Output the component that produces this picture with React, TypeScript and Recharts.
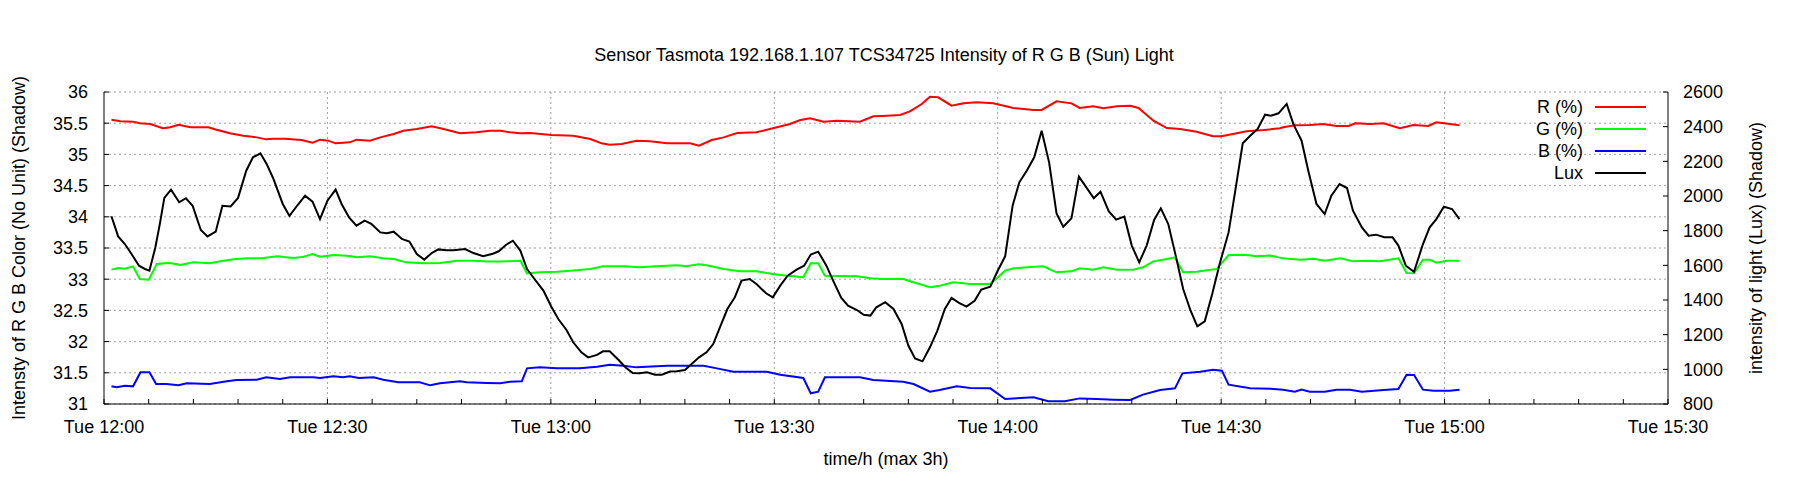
import { CartesianGrid, Legend, Line, LineChart, ReferenceLine, XAxis, YAxis } from "recharts"

const FONT = '"Liberation Sans", Arial, Helvetica, sans-serif'
const FS = 18

// time in minutes after Tue 12:00
const luxTime = [
  1.0, 1.9, 2.8, 3.7, 4.7, 5.5, 6.1, 6.9, 7.5, 8.1, 9.0, 10.1, 11.0, 11.9, 13.0, 13.9, 15.0, 15.9, 17.0, 18.0,
  19.1, 20.0, 21.0, 21.8, 22.7, 24.0, 24.9, 26.0, 27.0, 28.0, 29.0, 30.0, 31.1, 31.9, 32.9, 33.9, 35.0, 35.9,
  37.1, 38.0, 38.9, 40.0, 41.0, 42.0, 43.0, 44.0, 44.9, 46.0, 46.9, 48.5, 49.6, 50.9, 52.2, 53.0, 54.0, 54.9,
  55.9, 56.8, 57.8, 59.0, 60.1, 61.0, 62.1, 63.0, 64.1, 65.0, 66.2, 67.0, 67.9, 69.1, 70.0, 71.0, 71.9, 72.9,
  74.0, 74.9, 76.0, 76.9, 78.0, 78.9, 79.9, 80.9, 81.8, 82.7, 83.7, 84.7, 85.6, 86.7, 87.6, 88.9, 89.8, 90.8,
  91.8, 93.0, 94.0, 94.9, 95.9, 97.0, 97.9, 99.0, 99.9, 101.1, 102.0, 102.9, 103.7, 104.9, 106.0, 107.1, 108.0,
  108.9, 109.9, 110.9, 111.9, 112.9, 113.8, 114.8, 115.8, 116.9, 117.8, 119.0, 120.0, 121.0, 122.0, 122.9,
  123.9, 124.9, 125.9, 126.9, 127.9, 128.8, 129.9, 130.9, 131.9, 132.9, 133.8, 134.9, 135.9, 137.0, 138.0,
  139.0, 140.0, 141.0, 141.9, 142.9, 143.9, 144.9, 145.9, 146.8, 147.8, 148.8, 149.8, 151.0, 151.9, 152.9,
  153.9, 154.9, 155.9, 156.7, 157.7, 158.8, 159.7, 160.8, 161.7, 162.8, 163.9, 164.8, 165.9, 166.9, 167.7,
  168.9, 169.8, 170.8, 171.9, 173.0, 173.8, 174.8, 175.9, 177.1, 178.0, 178.9, 179.9, 181.0, 182.0,
]
const luxValue = [
  1883, 1767, 1723, 1665, 1598, 1579, 1569, 1704, 1839, 1989, 2037, 1964, 1987, 1944, 1804, 1767, 1794, 1944,
  1940, 1989, 2146, 2223, 2246, 2188, 2104, 1954, 1885, 1948, 2002, 1967, 1867, 1973, 2037, 1954, 1877, 1829,
  1858, 1839, 1790, 1785, 1794, 1752, 1737, 1665, 1633, 1671, 1692, 1687, 1687, 1694, 1671, 1652, 1667, 1681,
  1719, 1742, 1685, 1579, 1521, 1454, 1358, 1290, 1227, 1156, 1098, 1069, 1083, 1104, 1104, 1054, 1012, 979,
  977, 983, 969, 969, 987, 989, 996, 1031, 1069, 1098, 1146, 1242, 1348, 1415, 1512, 1521, 1492, 1439, 1415,
  1483, 1540, 1575, 1598, 1662, 1679, 1598, 1512, 1412, 1367, 1342, 1315, 1310, 1358, 1387, 1348, 1262, 1137,
  1063, 1046, 1127, 1223, 1348, 1412, 1383, 1362, 1396, 1460, 1477, 1569, 1652, 1944, 2079, 2146, 2223, 2377,
  2194, 1900, 1823, 1871, 2112, 2050, 1987, 2025, 1912, 1864, 1881, 1714, 1617, 1714, 1862, 1929, 1838, 1656,
  1463, 1338, 1248, 1277, 1435, 1608, 1790, 2031, 2304, 2348, 2387, 2469, 2463, 2477, 2531, 2415, 2319, 2146,
  1954, 1896, 2002, 2069, 2046, 1915, 1819, 1771, 1777, 1762, 1762, 1714, 1598, 1563, 1723, 1819, 1867, 1938,
  1925, 1867,
]

const rTime = [
  1.0, 2.2, 3.9, 4.8, 6.2, 7.9, 8.9, 10.0, 11.6, 14.0, 15.1, 16.9, 18.7, 20.5, 21.8, 22.7, 24.3, 26.5, 28.0,
  29.0, 30.1, 31.1, 33.0, 33.9, 35.7, 37.1, 38.9, 40.2, 42.0, 44.0, 45.6, 47.8, 50.0, 51.8, 53.2, 54.5, 55.9,
  57.2, 60.1, 63.0, 65.3, 66.8, 67.9, 69.5, 71.5, 73.3, 75.6, 78.7, 79.9, 81.6, 83.2, 85.0, 87.6, 89.8, 92.1,
  93.5, 94.8, 96.6, 98.4, 101.5, 103.3, 104.5, 106.9, 108.2, 109.8, 110.9, 112.0, 113.8, 115.4, 117.2, 119.4,
  122.1, 124.8, 125.9, 127.9, 129.9, 131.0, 132.8, 134.2, 136.0, 137.8, 138.9, 140.9, 142.7, 144.5, 146.7,
  148.9, 150.0, 151.6, 153.4, 155.7, 157.9, 158.3, 159.9, 161.9, 163.7, 165.5, 167.1, 168.0, 170.0, 171.8,
  172.9, 174.0, 175.8, 177.8, 178.9, 180.7, 182.0,
]
const rValue = [
  35.557, 35.53, 35.525, 35.498, 35.487, 35.418, 35.434, 35.476, 35.434, 35.434, 35.396, 35.338, 35.3, 35.273,
  35.241, 35.252, 35.252, 35.231, 35.188, 35.236, 35.22, 35.177, 35.193, 35.236, 35.22, 35.273, 35.327, 35.38,
  35.407, 35.45, 35.407, 35.338, 35.354, 35.38, 35.38, 35.354, 35.338, 35.343, 35.311, 35.3, 35.247, 35.177,
  35.156, 35.167, 35.22, 35.209, 35.177, 35.177, 35.14, 35.231, 35.273, 35.343, 35.354, 35.418, 35.487, 35.551,
  35.578, 35.525, 35.541, 35.525, 35.61, 35.615, 35.631, 35.69, 35.808, 35.925, 35.915, 35.781, 35.818,
  35.834, 35.818, 35.744, 35.712, 35.712, 35.85, 35.818, 35.744, 35.77, 35.738, 35.77, 35.781, 35.744, 35.54,
  35.423, 35.407, 35.364, 35.29, 35.29, 35.327, 35.37, 35.391, 35.418, 35.434, 35.466, 35.471, 35.487, 35.455,
  35.455, 35.498, 35.487, 35.498, 35.46, 35.418, 35.471, 35.455, 35.514, 35.487, 35.466,
]

const gTime = [
  1.0, 1.9, 2.8, 3.9, 4.8, 6.0, 7.1, 8.0, 9.1, 10.2, 12.0, 14.2, 15.6, 17.4, 19.2, 21.4, 23.2, 25.4, 26.8,
  28.0, 29.0, 30.8, 32.6, 33.9, 35.7, 37.5, 38.9, 40.6, 42.9, 45.1, 47.4, 49.6, 51.5, 53.2, 55.9, 56.8, 58.5,
  60.8, 62.6, 65.3, 67.0, 69.7, 71.9, 74.2, 76.9, 78.2, 79.8, 80.9, 83.2, 85.4, 87.6, 89.8, 91.7, 92.6, 93.9,
  94.9, 95.9, 96.8, 98.8, 101.1, 102.9, 104.5, 107.3, 108.7, 110.9, 112.2, 114.0, 116.3, 119.0, 121.0, 122.1,
  123.9, 126.1, 127.9, 129.9, 131.0, 132.8, 134.2, 136.0, 138.2, 139.5, 140.9, 142.7, 143.8, 144.9, 146.7,
  148.3, 149.4, 151.0, 153.0, 154.8, 156.6, 158.3, 160.6, 162.4, 163.9, 166.0, 167.7, 170.0, 171.3, 173.8,
  174.9, 175.9, 177.1, 178.0, 178.9, 180.3, 182.0,
]
const gValue = [
  33.153, 33.18, 33.169, 33.206, 33.003, 32.992, 33.244, 33.254, 33.254, 33.228, 33.27, 33.254, 33.286,
  33.318, 33.334, 33.34, 33.366, 33.34, 33.361, 33.404, 33.361, 33.388, 33.377, 33.35, 33.366, 33.334, 33.324,
  33.27, 33.254, 33.26, 33.297, 33.297, 33.283, 33.282, 33.297, 33.094, 33.11, 33.12, 33.137, 33.163, 33.206,
  33.206, 33.19, 33.206, 33.222, 33.206, 33.238, 33.222, 33.163, 33.126, 33.126, 33.083, 33.056, 33.046, 33.03,
  33.254, 33.254, 33.056, 33.051, 33.046, 33.014, 33.003, 33.003, 32.95, 32.87, 32.896, 32.95, 32.923, 32.923,
  33.137, 33.174, 33.19, 33.206, 33.11, 33.126, 33.174, 33.153, 33.19, 33.153, 33.153, 33.19, 33.286, 33.324,
  33.35, 33.11, 33.12, 33.147, 33.163, 33.388, 33.393, 33.366, 33.38, 33.334, 33.313, 33.329, 33.297, 33.334,
  33.286, 33.297, 33.286, 33.334, 33.099, 33.094, 33.313, 33.313, 33.265, 33.297, 33.297,
]

const bTime = [
  1.0, 1.7, 2.8, 3.9, 4.9, 6.1, 7.0, 8.4, 10.0, 11.1, 14.2, 16.5, 17.8, 20.5, 21.8, 23.6, 25.0, 28.1, 29.0,
  30.8, 32.1, 33.0, 34.2, 36.2, 37.5, 39.5, 42.4, 43.8, 45.1, 47.8, 48.7, 51.4, 53.2, 54.5, 56.1, 56.8, 58.5,
  60.8, 63.9, 66.2, 67.9, 69.7, 71.5, 74.2, 75.6, 78.7, 80.5, 82.3, 84.5, 89.0, 90.8, 93.9, 94.9, 95.9, 96.8,
  101.5, 103.3, 105.0, 107.3, 108.7, 110.9, 112.2, 114.5, 116.3, 119.0, 121.0, 122.1, 124.8, 126.8, 129.0,
  131.0, 133.3, 135.5, 137.8, 139.5, 141.8, 143.8, 144.8, 147.2, 148.9, 150.1, 151.0, 153.9, 156.6, 158.3,
  159.9, 160.8, 161.9, 163.9, 165.5, 167.3, 168.9, 171.8, 173.8, 174.9, 175.9, 177.1, 178.5, 180.7, 182.0,
]
const bValue = [
  31.283, 31.267, 31.294, 31.283, 31.507, 31.507, 31.32, 31.32, 31.299, 31.331, 31.32, 31.363, 31.384, 31.39,
  31.427, 31.4, 31.427, 31.427, 31.417, 31.443, 31.427, 31.443, 31.417, 31.427, 31.39, 31.347, 31.347, 31.299,
  31.331, 31.363, 31.347, 31.336, 31.331, 31.358, 31.363, 31.571, 31.587, 31.571, 31.571, 31.598, 31.63,
  31.614, 31.587, 31.603, 31.614, 31.614, 31.614, 31.571, 31.518, 31.518, 31.47, 31.417, 31.171, 31.197,
  31.427, 31.427, 31.384, 31.374, 31.358, 31.32, 31.197, 31.224, 31.283, 31.256, 31.251, 31.08, 31.09, 31.107,
  31.043, 31.043, 31.09, 31.08, 31.07, 31.064, 31.15, 31.224, 31.251, 31.491, 31.518, 31.55, 31.534, 31.31,
  31.251, 31.245, 31.23, 31.197, 31.23, 31.197, 31.197, 31.23, 31.23, 31.197, 31.224, 31.24, 31.47, 31.465,
  31.23, 31.214, 31.214, 31.23,
]

const seriesNames = ["R (%)", "G (%)", "B (%)", "Lux"]
const seriesColors = ["#ff0000", "#00ff00", "#0000ff", "#000000"]

const xMinorTicks = [
  0, 6, 12, 18, 24, 30, 36, 42, 48, 54, 60, 66, 72, 78, 84, 90, 96, 102, 108, 114, 120, 126, 132, 138, 144,
  150, 156, 162, 168, 174, 180, 186, 192, 198, 204, 210,
]
const xGridTicks = [30, 60, 90, 120, 150, 180]
const xLabelMinutes = [0, 30, 60, 90, 120, 150, 180, 210]
const xLabelTexts = ["Tue 12:00", "Tue 12:30", "Tue 13:00", "Tue 13:30", "Tue 14:00", "Tue 14:30", "Tue 15:00", "Tue 15:30"]
const leftTicks = [31, 31.5, 32, 32.5, 33, 33.5, 34, 34.5, 35, 35.5, 36]
const rightTicks = [800, 1000, 1200, 1400, 1600, 1800, 2000, 2200, 2400, 2600]

const toPoints = (t: number[], v: number[]) => t.map((x, i) => ({ t: x, v: v[i] }))

const rData = toPoints(rTime, rValue)
const gData = toPoints(gTime, gValue)
const bData = toPoints(bTime, bValue)
const luxData = toPoints(luxTime, luxValue)

const tickStyle = { fill: "#000", fontSize: FS, fontFamily: FONT }
const black = { stroke: "#000", strokeWidth: 1 }

function LegendBox() {
  return (
    <div style={{ fontFamily: FONT, fontSize: FS, color: "#000" }}>
      {seriesNames.map((name, i) => (
        <div key={name} style={{ display: "flex", alignItems: "center", height: 22 }}>
          <span style={{ width: 100, textAlign: "right", whiteSpace: "nowrap" }}>{name}</span>
          <span style={{ width: 51, height: 2, marginLeft: 12, background: seriesColors[i] }} />
        </div>
      ))}
    </div>
  )
}

export default function App() {
  const formatX = (m: number) => {
    const idx = xLabelMinutes.indexOf(m)
    return idx >= 0 ? xLabelTexts[idx] : ""
  }

  return (
    <div style={{ position: "relative", width: 1784, height: 484, fontFamily: FONT }}>
      <div
        style={{
          position: "absolute",
          top: 37,
          left: 0,
          width: 1752,
          textAlign: "center",
          fontSize: FS,
          lineHeight: "20px",
          color: "#000",
        }}
      >
        Sensor Tasmota 192.168.1.107 TCS34725 Intensity of R G B (Sun) Light
      </div>
      <LineChart width={1784} height={484} margin={{ top: 84, right: 0, bottom: 0, left: 0 }}>
        <CartesianGrid yAxisId="left" vertical={false} stroke="#a0a0a0" strokeDasharray="2 3" />
        {xGridTicks.map((m) => (
          <ReferenceLine key={m} x={m} yAxisId="left" stroke="#a0a0a0" strokeDasharray="2 3" />
        ))}
        <XAxis
          dataKey="t"
          type="number"
          domain={[0, 210]}
          ticks={xMinorTicks}
          interval={0}
          tickFormatter={formatX}
          height={88}
          tickSize={-5}
          tickMargin={21}
          axisLine={black}
          tickLine={black}
          tick={tickStyle}
          label={{ value: "time/h (max 3h)", position: "center", dy: 11, fill: "#000", fontSize: FS, fontFamily: FONT }}
        />
        <XAxis
          xAxisId="top"
          orientation="top"
          dataKey="t"
          type="number"
          domain={[0, 210]}
          ticks={xMinorTicks}
          interval={0}
          height={0}
          tickSize={-5}
          axisLine={black}
          tickLine={black}
          tick={false}
        />
        <YAxis
          yAxisId="left"
          type="number"
          domain={[31, 36]}
          ticks={leftTicks}
          interval={0}
          width={96}
          tickSize={-5}
          tickMargin={21}
          axisLine={black}
          tickLine={black}
          tick={tickStyle}
          label={{
            value: "Intensty of R G B Color (No Unit) (Shadow)",
            angle: -90,
            position: "center",
            dx: -37,
            fill: "#000",
            fontSize: FS,
            fontFamily: FONT,
          }}
        />
        <YAxis
          yAxisId="right"
          orientation="right"
          type="number"
          domain={[800, 2600]}
          ticks={rightTicks}
          interval={0}
          width={124}
          tickSize={-5}
          tickMargin={20}
          axisLine={black}
          tickLine={black}
          tick={tickStyle}
          label={{
            value: "intensity of light (Lux) (Shadow)",
            angle: -90,
            position: "center",
            dx: 26,
            fill: "#000",
            fontSize: FS,
            fontFamily: FONT,
          }}
        />
        <Legend
          content={<LegendBox />}
          layout="horizontal"
          verticalAlign="middle"
          align="center"
          wrapperStyle={{ position: "absolute", left: 1475, top: 88, width: 170 }}
        />
        <Line data={rData} dataKey="v" name={seriesNames[0]} yAxisId="left" type="linear" stroke={seriesColors[0]} strokeWidth={2} dot={false} isAnimationActive={false} />
        <Line data={gData} dataKey="v" name={seriesNames[1]} yAxisId="left" type="linear" stroke={seriesColors[1]} strokeWidth={2} dot={false} isAnimationActive={false} />
        <Line data={bData} dataKey="v" name={seriesNames[2]} yAxisId="left" type="linear" stroke={seriesColors[2]} strokeWidth={2} dot={false} isAnimationActive={false} />
        <Line data={luxData} dataKey="v" name={seriesNames[3]} yAxisId="right" type="linear" stroke={seriesColors[3]} strokeWidth={2} dot={false} isAnimationActive={false} />
      </LineChart>
    </div>
  )
}
